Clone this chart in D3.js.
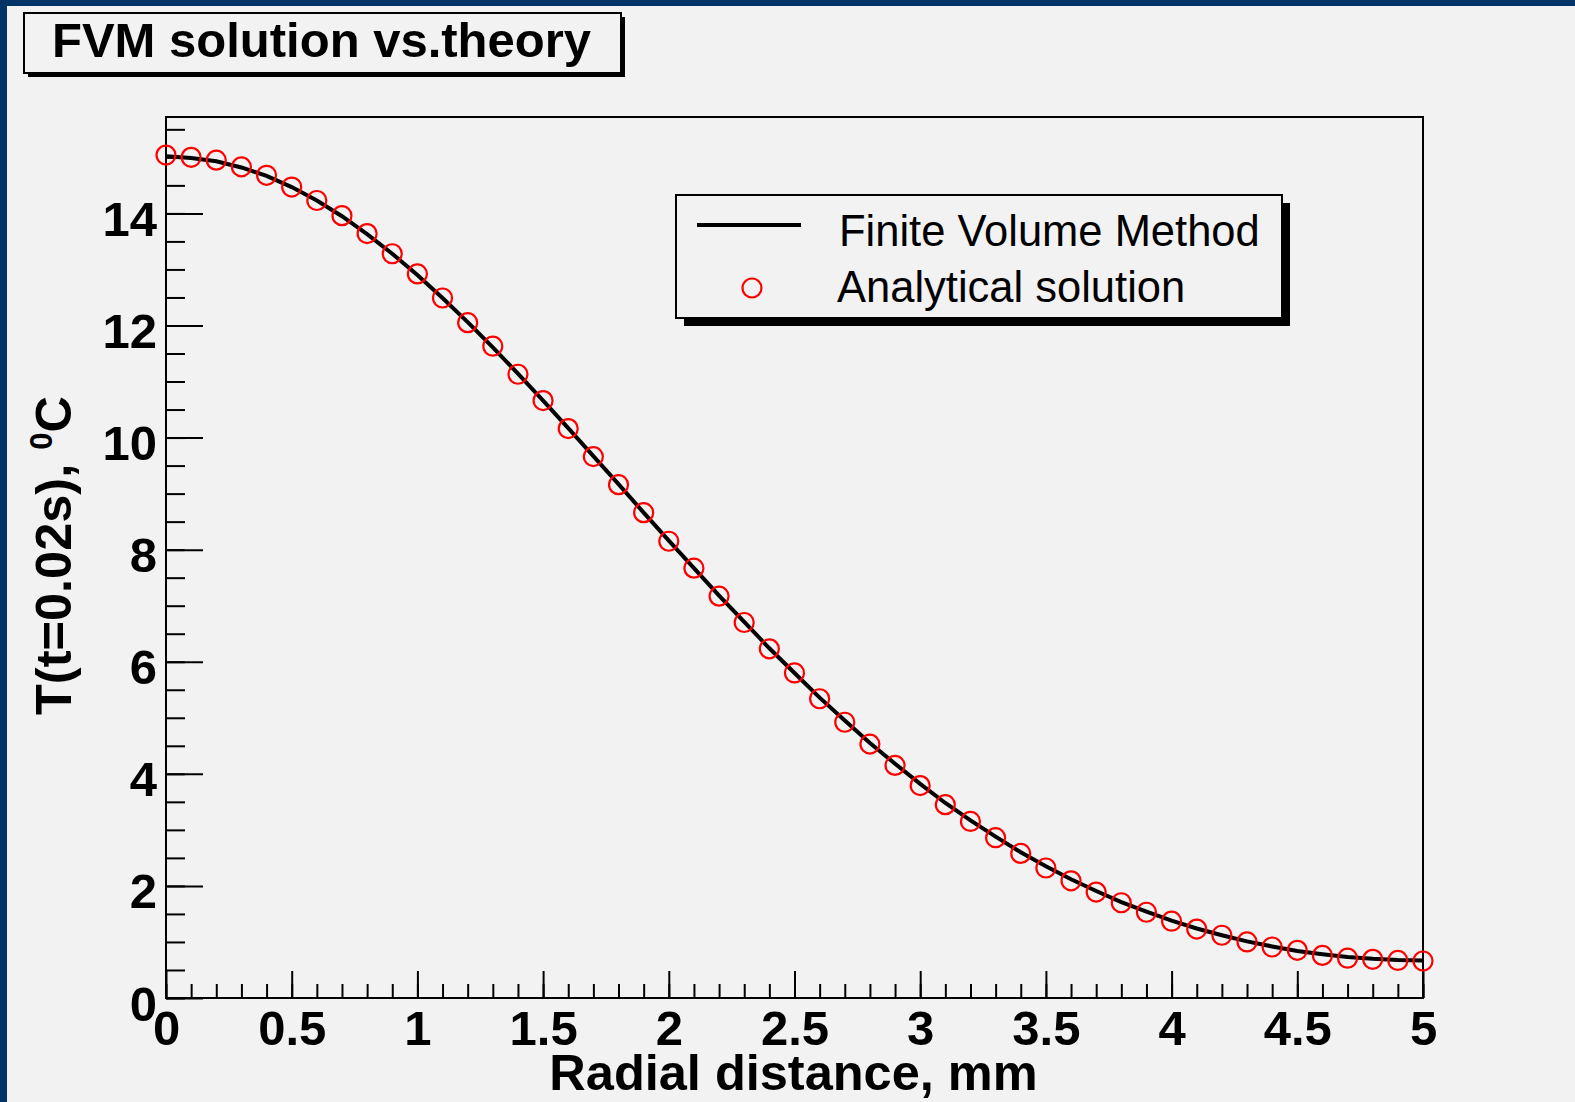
<!DOCTYPE html>
<html>
<head>
<meta charset="utf-8">
<title>FVM solution vs.theory</title>
<script src="https://cdnjs.cloudflare.com/ajax/libs/d3/7.8.5/d3.min.js"></script>
<style>
    body{ margin:0; background:#f2f2f2; }
    svg text{ font-family:"Liberation Sans", Arial, Helvetica, sans-serif; fill:#000; }
</style>
</head>
<body>
<script>
var width = 1575, height = 1102;

// radial distance, mm
var radius = [0,0.1,0.2,0.3,0.4,0.5,0.6,0.7,0.8,0.9,1.0,1.1,1.2,1.3,1.4,1.5,1.6,1.7,1.8,1.9,
              2.0,2.1,2.2,2.3,2.4,2.5,2.6,2.7,2.8,2.9,3.0,3.1,3.2,3.3,3.4,3.5,3.6,3.7,3.8,3.9,
              4.0,4.1,4.2,4.3,4.4,4.5,4.6,4.7,4.8,4.9,5.0];
// analytical solution (red circles)
var analytT = [15.04,15.00,14.95,14.83,14.68,14.47,14.23,13.96,13.64,13.28,12.92,12.49,12.05,11.63,11.13,10.66,10.16,9.66,9.16,8.66,
               8.15,7.67,7.17,6.70,6.23,5.80,5.34,4.92,4.53,4.15,3.79,3.45,3.15,2.86,2.58,2.32,2.09,1.89,1.70,1.53,
               1.37,1.23,1.12,1.00,0.91,0.85,0.76,0.71,0.69,0.67,0.66];
// finite volume method (black line)
var fvmT = [15.02,14.99,14.93,14.82,14.67,14.47,14.23,13.95,13.63,13.28,12.90,12.49,12.06,11.61,11.14,10.66,10.17,9.67,9.17,8.66,
            8.16,7.67,7.18,6.71,6.24,5.80,5.36,4.95,4.55,4.18,3.82,3.48,3.17,2.88,2.60,2.35,2.12,1.91,1.71,1.54,
            1.38,1.24,1.12,1.01,0.92,0.84,0.78,0.73,0.70,0.68,0.67];

var xMajor = [0,0.5,1,1.5,2,2.5,3,3.5,4,4.5,5];
var xMajorLabels = ["0","0.5","1","1.5","2","2.5","3","3.5","4","4.5","5"];
var yMajor = [0,2,4,6,8,10,12,14];
var yMajorLabels = ["0","2","4","6","8","10","12","14"];

var frame = {left:166, right:1423, top:117, bottom:998};

var svg = d3.select("body").append("svg")
    .attr("width", width)
    .attr("height", height);

svg.append("rect").attr("width", width).attr("height", height).attr("fill", "#f2f2f2");
// dark blue border, top and left only
svg.append("rect").attr("x",0).attr("y",0).attr("width",width).attr("height",6).attr("fill","#003466");
svg.append("rect").attr("x",0).attr("y",0).attr("width",7).attr("height",height).attr("fill","#003466");

var x = d3.scaleLinear().domain([0,5]).range([frame.left, frame.right]);
var y = d3.scaleLinear().domain([0,15.72]).range([frame.bottom, frame.top]);

// minor ticks
var xMinor = d3.range(0, 51).map(function(d){ return d/10; });
var yMinor = d3.range(0, 32).map(function(d){ return d/2; });

var gxMinor = svg.append("g").attr("transform","translate(0,"+frame.bottom+")")
    .call(d3.axisBottom(x).tickValues(xMinor).tickSize(-14).tickFormat(""));
var gxMajor = svg.append("g").attr("transform","translate(0,"+frame.bottom+")")
    .call(d3.axisBottom(x).tickValues(xMajor).tickSize(-27)
        .tickFormat(function(d,i){ return xMajorLabels[i]; }));
var gyMinor = svg.append("g").attr("transform","translate("+frame.left+",0)")
    .call(d3.axisLeft(y).tickValues(yMinor).tickSize(-19).tickFormat(""));
var gyMajor = svg.append("g").attr("transform","translate("+frame.left+",0)")
    .call(d3.axisLeft(y).tickValues(yMajor).tickSize(-37).tickPadding(9)
        .tickFormat(function(d,i){ return yMajorLabels[i]; }));

[gxMinor,gxMajor,gyMinor,gyMajor].forEach(function(g){
    g.select(".domain").remove();
    g.selectAll(".tick line").attr("stroke","#000").attr("stroke-width",2);
});
gxMajor.selectAll(".tick text")
    .attr("y",47).attr("dy",0)
    .style("font-size","49px").style("font-weight","bold");
gyMajor.selectAll(".tick text")
    .attr("dy",22)
    .style("font-size","49px").style("font-weight","bold");

// frame
svg.append("rect")
    .attr("x",frame.left).attr("y",frame.top)
    .attr("width",frame.right-frame.left).attr("height",frame.bottom-frame.top)
    .attr("fill","none").attr("stroke","#000").attr("stroke-width",2);

// FVM line
var line = d3.line()
    .x(function(d,i){ return x(radius[i]); })
    .y(function(d){ return y(d); });
svg.append("path")
    .attr("d", line(fvmT))
    .attr("fill","none").attr("stroke","#000").attr("stroke-width",4);

// analytical circles
svg.append("g").selectAll("circle")
    .data(analytT)
    .enter().append("circle")
    .attr("cx", function(d,i){ return x(radius[i]); })
    .attr("cy", function(d){ return y(d); })
    .attr("r", 9.5)
    .attr("fill","none").attr("stroke","#ff0000").attr("stroke-width",2.2);

// axis titles
svg.append("text")
    .attr("x",(frame.left+frame.right)/2 - 1).attr("y",1090)
    .attr("text-anchor","middle")
    .style("font-size","50.5px").style("font-weight","bold")
    .text("Radial distance, mm");

var yt = svg.append("text")
    .attr("transform","translate(71,"+((frame.top+frame.bottom)/2 - 2)+") rotate(-90)")
    .attr("text-anchor","middle")
    .style("font-size","50.5px").style("font-weight","bold");
yt.append("tspan").text("T(t=0.02s), ");
yt.append("tspan").attr("dy",-19).style("font-size","31px").text("0");
yt.append("tspan").attr("dy",19).text("C");

// title box
svg.append("rect").attr("x",28).attr("y",17).attr("width",597).attr("height",60).attr("fill","#000");
svg.append("rect").attr("x",24).attr("y",13).attr("width",597).attr("height",60)
    .attr("fill","#f2f2f2").attr("stroke","#000").attr("stroke-width",2);
svg.append("text")
    .attr("x",52).attr("y",57)
    .style("font-size","49px").style("font-weight","bold")
    .text("FVM solution vs.theory");

// legend
svg.append("rect").attr("x",684).attr("y",203).attr("width",606).attr("height",123).attr("fill","#000");
svg.append("rect").attr("x",676).attr("y",195).attr("width",606).attr("height",123)
    .attr("fill","#f2f2f2").attr("stroke","#000").attr("stroke-width",2);
svg.append("line").attr("x1",697).attr("x2",801).attr("y1",225).attr("y2",225)
    .attr("stroke","#000").attr("stroke-width",4);
svg.append("circle").attr("cx",752).attr("cy",288).attr("r",9.5)
    .attr("fill","none").attr("stroke","#ff0000").attr("stroke-width",2.2);
svg.append("text").attr("x",839).attr("y",246).style("font-size","43.5px").text("Finite Volume Method");
svg.append("text").attr("x",837).attr("y",302).style("font-size","43.5px").text("Analytical solution");
</script>
</body>
</html>
